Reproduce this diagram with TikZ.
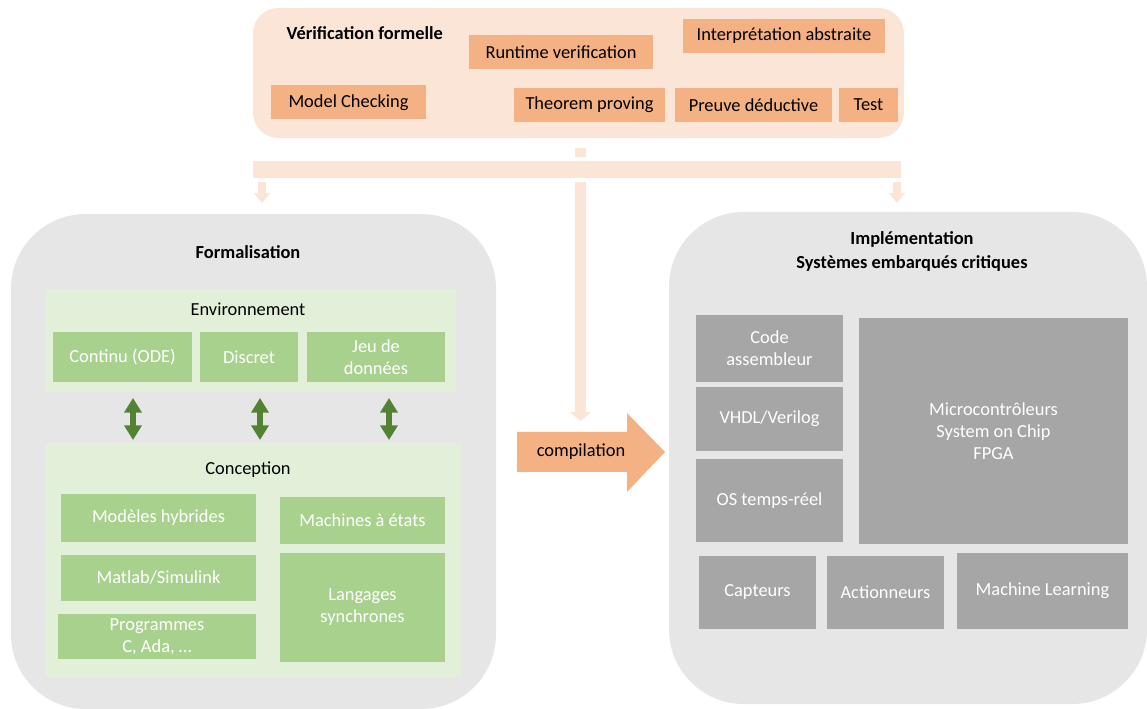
\documentclass[tikz,border=0pt]{standalone}
\usepackage{fontspec}
\setmainfont{Carlito}
\usetikzlibrary{arrows.meta}

\definecolor{peachLight}{HTML}{FBE5D6}
\definecolor{peach}{HTML}{F4B183}
\definecolor{panelGrey}{HTML}{E7E6E6}
\definecolor{greenLight}{HTML}{E2F0D9}
\definecolor{greenBox}{HTML}{A9D18E}
\definecolor{greenDark}{HTML}{548235}
\definecolor{greyBox}{HTML}{A6A6A6}

\tikzstyle{panel}=[rounded corners=56pt, fill=panelGrey, inner sep=0]
\tikzstyle{method}=[fill=peach, inner sep=0, minimum height=25.5pt]
\tikzstyle{zone}=[fill=greenLight, inner sep=0]
\tikzstyle{greenBlock}=[fill=greenBox, text=white, inner sep=0, align=center]
\tikzstyle{greyBlock}=[fill=greyBox, text=white, inner sep=0, align=center]
\tikzstyle{heading}=[font=\fontsize{13.8}{18}\selectfont\bfseries, align=center]
\tikzstyle{flow}=[draw=peachLight]
\tikzstyle{bothWays}=[draw=greenDark, line width=5pt, {Triangle[width=12.75pt,length=11pt]}-{Triangle[width=12.75pt,length=11pt]}]

\begin{document}
\begin{tikzpicture}[x=0.75pt, y=-0.75pt, every node/.style={font=\fontsize{13.8}{16.5}\selectfont}]

	\useasboundingbox (0,0) rectangle (1147,709);

	% Verification formelle
	\node(verif) at (578.5,73) [panel, fill=peachLight, rounded corners=19pt, minimum width=488.25pt, minimum height=97.5pt] {};
	\node(verifTitle) at (282,33) [heading, anchor=west] {Vérification formelle};
	\node(rv) at (561,52) [method, minimum width=138pt] {Runtime verification};
	\node(ia) at (784,36) [method, minimum width=151.5pt] {Interprétation abstraite};
	\node(mc) at (348.5,102.5) [method, minimum width=116.25pt] {Model Checking};
	\node(tp) at (589.5,105) [method, minimum width=113.25pt] {Theorem proving};
	\node(pd) at (753.5,105) [method, minimum width=117.75pt] {Preuve déductive};
	\node(test) at (868.5,105) [method, minimum width=44.25pt] {Test};

	% Repartition
	\node(stub) at (580.5,152.5) [fill=peachLight, inner sep=0, minimum width=8.25pt, minimum height=6.75pt] {};
	\node(bar) at (577,169.5) [fill=peachLight, inner sep=0, minimum width=486pt, minimum height=12.75pt] {};
	\coordinate(toLeftA) at (262,182);
	\coordinate(toLeftB) at (262,203);
	\coordinate(toRightA) at (897,182);
	\coordinate(toRightB) at (897,203);
	\coordinate(toCompA) at (580.5,182);
	\coordinate(toCompB) at (580.5,421);
	\draw[flow, line width=6pt, -{Triangle[width=12pt,length=7.5pt]}] (toLeftA) -- (toLeftB);
	\draw[flow, line width=6pt, -{Triangle[width=12pt,length=7.5pt]}] (toRightA) -- (toRightB);
	\draw[flow, line width=8.25pt, -{Triangle[width=15.75pt,length=6.75pt]}] (toCompA) -- (toCompB);

	% Formalisation
	\node(form) at (253.5,461.5) [panel, minimum width=363.75pt, minimum height=371.25pt] {};
	\node(formTitle) at (248,252) [heading] {Formalisation};

	\node(env) at (250.5,340.5) [zone, minimum width=308.25pt, minimum height=77.25pt] {};
	\node(envTitle) at (248,309) {Environnement};
	\node(ode) at (122.5,357) [greenBlock, minimum width=104.25pt, minimum height=37.5pt] {Continu (ODE)};
	\node(disc) at (249,357) [greenBlock, minimum width=73.5pt, minimum height=37.5pt] {Discret};
	\node(jeu) at (376,357) [greenBlock, minimum width=103.5pt, minimum height=37.5pt] {Jeu de\\données};

	\node(conc) at (253,560) [zone, minimum width=312pt, minimum height=175.5pt] {};
	\node(concTitle) at (248,470) {Conception};
	\node(mh) at (158.5,518) [greenBlock, minimum width=146.25pt, minimum height=36pt] {Modèles hybrides};
	\node(ms) at (158.5,578) [greenBlock, minimum width=146.25pt, minimum height=34.5pt] {Matlab/Simulink};
	\node(prog) at (157,636.5) [greenBlock, minimum width=148.5pt, minimum height=33.75pt] {Programmes\\C, Ada, …};
	\node(mae) at (362.5,520.5) [greenBlock, minimum width=123.75pt, minimum height=35.25pt] {Machines à états};
	\node(ls) at (362.5,607.5) [greenBlock, minimum width=123.75pt, minimum height=81.75pt] {Langages\\synchrones};

	\coordinate(e1) at (133,398);
	\coordinate(c1) at (133,440);
	\coordinate(e2) at (260,398);
	\coordinate(c2) at (260,440);
	\coordinate(e3) at (389,398);
	\coordinate(c3) at (389,440);
	\draw[bothWays] (e1) -- (c1);
	\draw[bothWays] (e2) -- (c2);
	\draw[bothWays] (e3) -- (c3);

	% compilation
	\fill[peach] (517,432) -- (627,432) -- (627,413) -- (665,452) -- (627,492) -- (627,472) -- (517,472) -- cycle;
	\node(comp) at (581,452) {compilation};

	% Implementation
	\node(impl) at (908,458) [panel, minimum width=358.5pt, minimum height=369pt] {};
	\node(implTitle) at (912,251) [heading] {Implémentation\\Systèmes embarqués critiques};
	\node(ca) at (769.5,348.5) [greyBlock, minimum width=110.25pt, minimum height=50.25pt] {Code\\assembleur};
	\node(vhdl) at (769.5,419) [greyBlock, minimum width=110.25pt, minimum height=48pt] {VHDL/Verilog};
	\node(os) at (769.5,500.5) [greyBlock, minimum width=110.25pt, minimum height=62.25pt] {OS temps-réel};
	\node(micro) at (993.5,431) [greyBlock, minimum width=201.75pt, minimum height=169.5pt] {Microcontrôleurs\\System on Chip\\FPGA};
	\node(cap) at (757.5,592.5) [greyBlock, minimum width=87.75pt, minimum height=54.75pt] {Capteurs};
	\node(act) at (885.5,592.5) [greyBlock, minimum width=87.75pt, minimum height=54.75pt] {Actionneurs};
	\node(ml) at (1042.5,591) [greyBlock, minimum width=128.25pt, minimum height=57pt] {Machine Learning};

\end{tikzpicture}
\end{document}
